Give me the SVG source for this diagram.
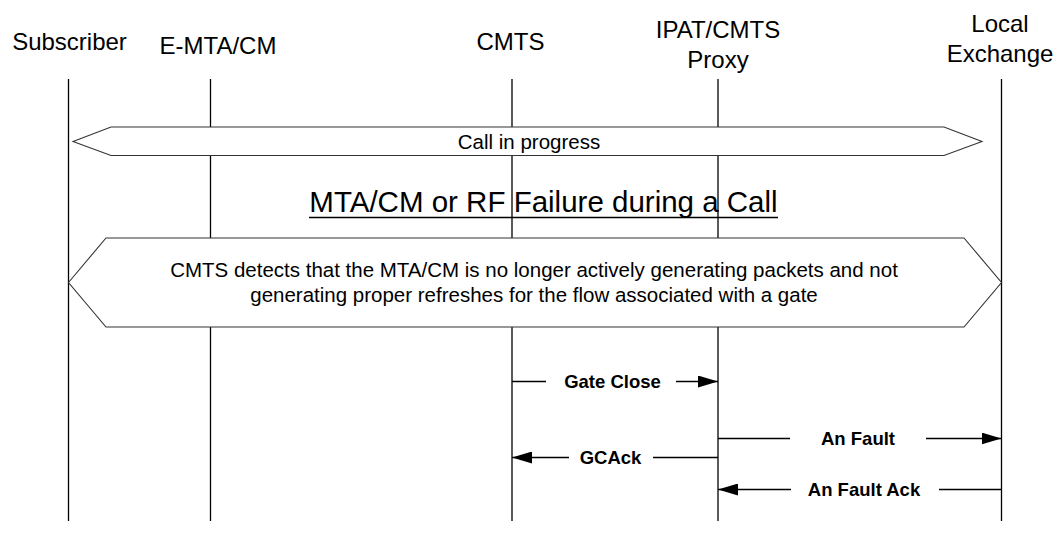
<svg xmlns="http://www.w3.org/2000/svg" width="1058" height="547" viewBox="0 0 1058 547">
  <style>
    .hdr { font-family: "Liberation Sans", Arial, sans-serif; font-size: 24px; fill: #000; text-anchor: middle; }
    .body { font-family: "Liberation Sans", Arial, sans-serif; font-size: 20.5px; fill: #000; text-anchor: middle; }
    .title { font-family: "Liberation Sans", Arial, sans-serif; font-size: 29.5px; fill: #000; text-anchor: middle; }
    .msg { font-family: "Liberation Sans", Arial, sans-serif; font-size: 18.5px; font-weight: bold; fill: #000; text-anchor: middle; }
    .life { stroke: #000; stroke-width: 1.3; fill: none; }
    .band { fill: #fff; stroke: #333; stroke-width: 1.1; }
    .line { stroke: #000; stroke-width: 1.3; fill: none; }
  </style>
  <defs>
    <marker id="head" markerWidth="20" markerHeight="12" refX="20" refY="6" orient="auto" markerUnits="userSpaceOnUse">
      <path d="M0,0 L20,6 L0,12 Z" fill="#000"/>
    </marker>
  </defs>
  <rect width="1058" height="547" fill="#fff"/>

  <!-- participants with lifelines -->
  <g id="subscriber">
    <text class="hdr" x="69.5" y="50">Subscriber</text>
    <line class="life" x1="68.5" y1="79" x2="68.5" y2="521"/>
  </g>
  <g id="emta-cm">
    <text class="hdr" x="218" y="53.5">E-MTA/CM</text>
    <line class="life" x1="210.5" y1="79" x2="210.5" y2="521"/>
  </g>
  <g id="cmts">
    <text class="hdr" x="510.5" y="49.5">CMTS</text>
    <line class="life" x1="512" y1="79" x2="512" y2="521"/>
  </g>
  <g id="ipat-proxy">
    <text class="hdr" x="718" y="37.5">IPAT/CMTS</text>
    <text class="hdr" x="718" y="67.5">Proxy</text>
    <line class="life" x1="718" y1="79" x2="718" y2="521"/>
  </g>
  <g id="local-exchange">
    <text class="hdr" x="1000" y="31.5">Local</text>
    <text class="hdr" x="1000" y="61.5">Exchange</text>
    <line class="life" x1="1001.5" y1="79" x2="1001.5" y2="521"/>
  </g>

  <!-- call in progress band -->
  <g id="call-in-progress">
    <polygon class="band" points="73,141.5 111,127 944,127 982,141.5 944,155.5 111,155.5"/>
    <text class="body" x="529" y="148.5">Call in progress</text>
  </g>

  <!-- section title -->
  <g id="section-title">
    <text class="title" x="543.5" y="211.5">MTA/CM or RF Failure during a Call</text>
    <line x1="309" y1="217.5" x2="778" y2="217.5" stroke="#000" stroke-width="1.5"/>
  </g>

  <!-- detection note -->
  <g id="detection-note">
    <polygon class="band" points="68.5,282.5 106,238 964,238 1001.5,282.5 964,327 106,327"/>
    <text class="body" x="534" y="277">CMTS detects that the MTA/CM is no longer actively generating packets and not</text>
    <text class="body" x="534" y="302">generating proper refreshes for the flow associated with a gate</text>
  </g>

  <!-- messages -->
  <g id="connectors">
    <line class="line" x1="512" y1="381.5" x2="546" y2="381.5"/>
    <line class="line" x1="676" y1="381.5" x2="718" y2="381.5" marker-end="url(#head)"/>
    <text class="msg" x="612.5" y="388">Gate Close</text>

    <line class="line" x1="718" y1="438.5" x2="790" y2="438.5"/>
    <line class="line" x1="926" y1="438.5" x2="1001.5" y2="438.5" marker-end="url(#head)"/>
    <text class="msg" x="858" y="445">An Fault</text>

    <line class="line" x1="718" y1="457.5" x2="653" y2="457.5"/>
    <line class="line" x1="569" y1="457.5" x2="512" y2="457.5" marker-end="url(#head)"/>
    <text class="msg" x="610.5" y="464">GCAck</text>

    <line class="line" x1="1001.5" y1="489.5" x2="939" y2="489.5"/>
    <line class="line" x1="791" y1="489.5" x2="718" y2="489.5" marker-end="url(#head)"/>
    <text class="msg" x="864" y="496">An Fault Ack</text>
  </g>
</svg>
